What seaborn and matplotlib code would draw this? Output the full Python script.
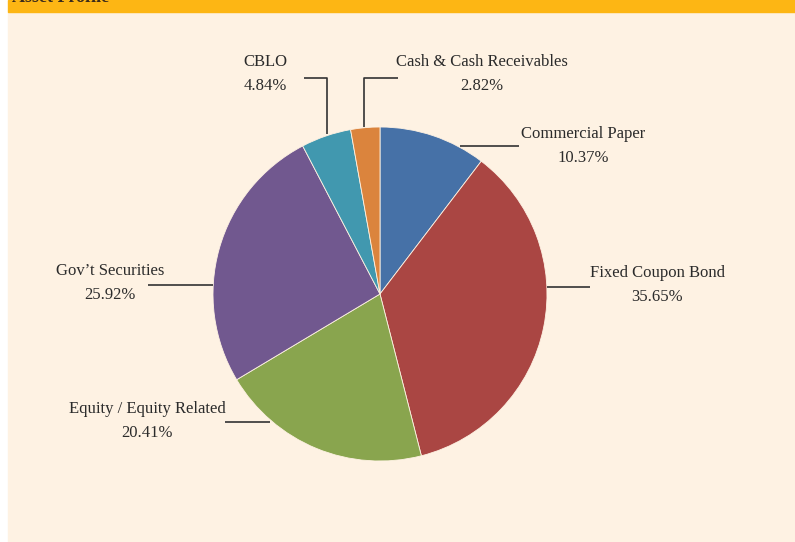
import matplotlib.pyplot as plt
import seaborn as sns
from matplotlib.patches import Rectangle

# Asset profile data (clockwise from 12 o'clock)
categories = ['Commercial Paper', 'Fixed Coupon Bond', 'Equity / Equity Related',
              "Gov\u2019t Securities", 'CBLO', 'Cash & Cash Receivables']
shares = [10.37, 35.65, 20.41, 25.92, 4.84, 2.82]
share_labels = ['10.37%', '35.65%', '20.41%', '25.92%', '4.84%', '2.82%']
slice_colors = ['#4671A7', '#AA4643', '#89A54E', '#71588F', '#4198AF', '#DB843D']

sns.set_style('white')
plt.rcParams['font.family'] = ['Liberation Serif', 'DejaVu Serif']

W, H = 795, 542
fig = plt.figure(figsize=(W / 100, H / 100), dpi=100, facecolor='white')
ax = fig.add_axes([0, 0, 1, 1])
ax.set_xlim(0, W)
ax.set_ylim(0, H)
ax.set_aspect('equal')
ax.axis('off')

def py(y):
    # pixel row -> data y
    return H - y

# panel background + header bar
ax.add_patch(Rectangle((8, 0), W - 8, py(12), color='#FEF2E3', zorder=0))
ax.add_patch(Rectangle((8, py(12)), W - 8, 12, color='#FDB614', zorder=0))
ax.text(12, py(2), 'Asset Profile', fontsize=13, fontweight='bold',
        color='#3a2a1a', va='baseline', ha='left', clip_on=False)

palette = sns.color_palette(slice_colors)
ax.pie(shares, colors=palette, startangle=90, counterclock=False,
       center=(380, py(294)), radius=167, frame=True,
       wedgeprops=dict(linewidth=0.6, edgecolor='#FEF2E3'))
ax.set_xlim(0, W)
ax.set_ylim(0, H)
ax.axis('off')

# label text positions (pixel centres) and leader lines
label_pos = [(583, 146), (657, 285), (147, 421), (110, 283), (265, 74), (482, 74)]
leaders = [
    [(460, 146), (519, 146)],
    [(547, 287), (590, 287)],
    [(225, 422), (270, 422)],
    [(148, 285), (213, 285)],
    [(304, 78), (327, 78), (327, 134)],
    [(398, 78), (364, 78), (364, 127)],
]

for name, lab, (lx, ly), pts in zip(categories, share_labels, label_pos, leaders):
    ax.text(lx, py(ly), f'{name}\n{lab}', ha='center', va='center',
            fontsize=12, color='#2b2b2b', linespacing=1.72)
    xs = [p[0] for p in pts]
    ys = [py(p[1]) for p in pts]
    ax.plot(xs, ys, color='#333333', linewidth=1.2, solid_capstyle='butt')

fig.savefig('out.png', dpi=100, facecolor='white')
